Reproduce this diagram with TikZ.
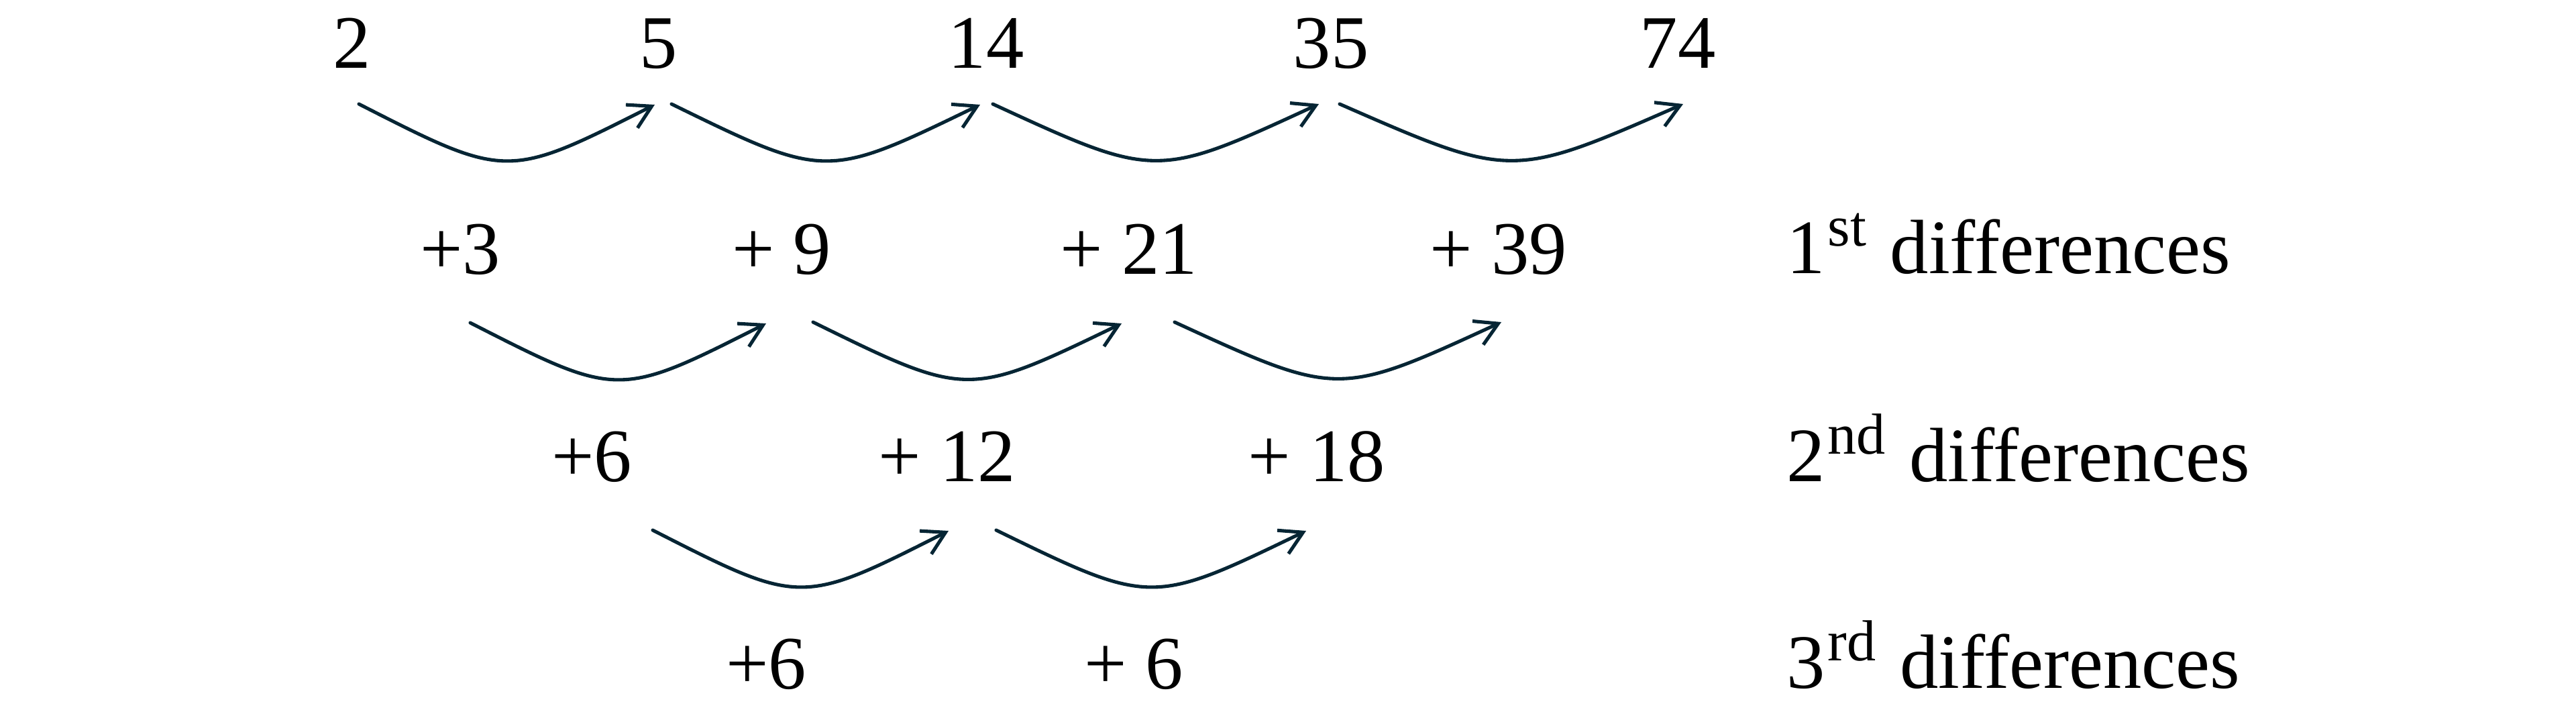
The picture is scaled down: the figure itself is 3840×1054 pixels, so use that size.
\documentclass[tikz,border=0pt]{standalone}
\usepackage{fontspec}
\setmainfont{Liberation Serif}
\usetikzlibrary{arrows.meta,calc}
\definecolor{arrowc}{RGB}{6,37,52}
\tikzset{
  num/.style={anchor=base, inner sep=0pt, font=\fontsize{32}{38}\selectfont},
  lbl/.style={anchor=base west, inner sep=0pt, font=\fontsize{32.6}{38}\selectfont},
  curvearrow/.style={draw=arrowc, line width=1.45pt, line cap=round,
    -{Straight Barb[length=9.5pt,width=11pt]}}
}
\newcommand{\ordsup}[1]{\hspace{1pt}\raisebox{11.6pt}{\fontsize{24.5}{24}\selectfont #1}\hspace{2pt}}
\newcommand{\hop}[2]{\draw[curvearrow] (#1) .. controls ($(#1)!.5!(#2)+(0,112)$) and ($(#1)!.5!(#2)+(0,112)$) .. (#2);}
\begin{document}
\begin{tikzpicture}[x=0.01cm,y=-0.01cm]
\useasboundingbox (0,0) rectangle (3840,1054);
% row 1
\node[num] (n1) at (525,101) {2};
\node[num] (n2) at (982,101) {5};
\node[num] (n3) at (1470,101) {14};
\node[num] (n4) at (1984,101) {35};
\node[num] (n5) at (2501,101) {74};
% row 2
\node[num] (d1) at (686,408) {+3};
\node[num] (d2) at (1165,408) {+ 9};
\node[num] (d3) at (1683,408) {+ 21};
\node[num] (d4) at (2234,408) {+ 39};
% row 3
\node[num] (e1) at (882,717) {+6};
\node[num] (e2) at (1412,717) {+ 12};
\node[num] (e3) at (1963,717) {+ 18};
% row 4
\node[num] (f1) at (1142,1026) {+6};
\node[num] (f2) at (1690,1026) {+ 6};
% labels
\node[lbl] (l1) at (2663,407) {1\ordsup{st} differences};
\node[lbl] (l2) at (2663,717) {2\ordsup{nd} differences};
\node[lbl] (l3) at (2663,1025) {3\ordsup{rd} differences};
% arrow end points
\coordinate (a1s) at (535,155);  \coordinate (a1e) at (976,156);
\coordinate (a2s) at (1001,155); \coordinate (a2e) at (1461,156);
\coordinate (a3s) at (1480,155); \coordinate (a3e) at (1966,155);
\coordinate (a4s) at (1997,155); \coordinate (a4e) at (2509,155);
\coordinate (b1s) at (701,481);  \coordinate (b1e) at (1142,482);
\coordinate (b2s) at (1212,480); \coordinate (b2e) at (1672,482);
\coordinate (b3s) at (1751,480); \coordinate (b3e) at (2238,480);
\coordinate (c1s) at (973,790);  \coordinate (c1e) at (1414,791);
\coordinate (c2s) at (1485,790); \coordinate (c2e) at (1947,791);
\hop{a1s}{a1e}
\hop{a2s}{a2e}
\hop{a3s}{a3e}
\hop{a4s}{a4e}
\hop{b1s}{b1e}
\hop{b2s}{b2e}
\hop{b3s}{b3e}
\hop{c1s}{c1e}
\hop{c2s}{c2e}
\end{tikzpicture}
\end{document}
